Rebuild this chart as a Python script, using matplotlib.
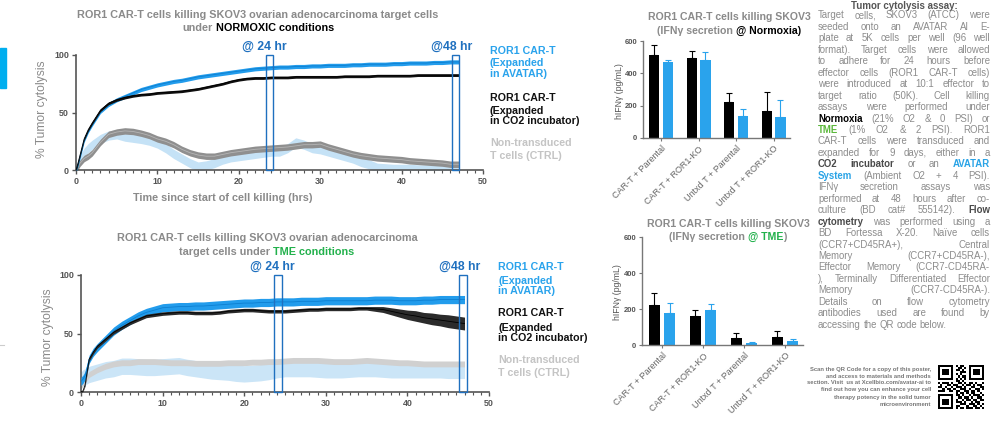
import matplotlib
matplotlib.use("Agg")
import matplotlib.pyplot as plt
from matplotlib.patches import Rectangle
from matplotlib.ticker import MultipleLocator
import numpy as np

plt.rcParams['font.family'] = ['Liberation Sans', 'DejaVu Sans']

W, H = 993, 425

# ---------------- data ----------------
hours = [0, 0.25, 0.5, 1, 1.5, 2, 3, 4, 5, 6, 7, 8, 9, 10, 11, 12, 13, 14, 15, 16,
         17, 18, 19, 20, 21, 22, 23, 24, 25, 26, 27, 28, 29, 30, 31, 32, 33, 34, 35,
         36, 37, 38, 39, 40, 41, 42, 43, 44, 45, 46, 47]

# normoxia
norm_avatar = [0, 5, 12, 26, 34, 40, 51, 57, 61, 64, 67, 70, 72, 74, 75.5, 77, 78, 79.5,
               81, 82, 83, 84, 85, 86, 87, 88, 88.5, 89, 89.5, 89.5, 90, 90, 90.5, 90.5,
               91, 91, 91, 91.5, 91.5, 92, 92, 92, 92.5, 92.5, 93, 93, 93, 93.5, 93.5, 94, 94]
norm_co2 = [0, 6, 13, 27, 35, 41, 52, 58, 61, 63, 64.5, 65.5, 66, 67, 67.5, 68, 68.5, 69.5,
            70.5, 72, 73.5, 75, 77, 78.5, 79.5, 80, 80, 80.5, 80.5, 80.5, 81, 81, 81, 81,
            81, 81, 81.5, 81.5, 81.5, 81.5, 82, 82, 82, 82, 82, 82.5, 82.5, 82.5, 82.5, 82.5, 82.5]
norm_ctrl_co2 = [0, 3, 6, 10, 12, 15, 24, 31, 33, 34, 33.5, 32, 30, 27, 25, 22, 18, 15, 13,
                 12, 12, 13.5, 15, 16, 17, 18, 18.5, 19, 19.5, 20, 21, 22, 22, 22.5, 20, 18,
                 16, 14, 12.5, 11.5, 10.5, 10, 9.5, 9, 8, 7.5, 7, 6.5, 6, 5, 5]
norm_ctrl_avatar = [0, 5, 9, 15, 19, 22, 27, 30, 31, 29, 28, 27, 25.5, 23, 19, 14, 10, 6, 3,
                    4, 6, 9, 11, 12, 13, 14, 15, 16, 16, 19, 24, 22, 19, 18, 16, 14, 12, 10,
                    7, 5, 2, 1.5, 1, 1, 1, 0.5, 0.5, 0.5, 0.5, 0.5, 0.5]

# TME
tme_avatar = [9, 11, 14, 28, 34, 38, 45, 52, 57, 61, 65, 68, 70, 72, 72.5, 73, 73, 73.5,
              73.5, 74, 74.5, 75, 75.5, 76, 76, 76.5, 76.5, 77, 77, 77, 77.5, 77.5, 77.5,
              78, 78, 78, 78, 78, 78, 78.5, 78.5, 78.5, 78, 78, 78, 78.5, 78.5, 79, 79, 79, 79]
tme_co2 = [0, 1, 6, 28, 34, 39, 45, 51, 55, 59, 62, 65, 66, 67, 67.5, 68, 68, 67.5, 67.5,
           67.5, 68, 69, 69.5, 70, 70, 69.5, 69, 69, 69, 69.5, 70, 70.5, 70.5, 71, 71, 71,
           71, 71.5, 71.5, 71, 70.5, 69, 67.5, 66, 65, 63.5, 62.5, 61.5, 60.5, 59.5, 58.5]
tme_co2_err = [0.5, 0.5, 1, 1.5, 1.5, 1.5, 1.5, 1.5, 1.5, 1.5, 1.5, 1.5, 1.5, 1.5, 1.5, 1.5,
               1.5, 1.5, 1.5, 1.5, 1.5, 1.5, 1.5, 1.5, 1.5, 1.5, 1.5, 1.5, 1.5, 1.5, 1.5,
               1.5, 1.5, 1.5, 1.5, 1.5, 1.5, 1.5, 1.5, 2, 2.5, 3, 3.5, 4, 4.5, 4.5, 5, 5,
               5.5, 5.5, 5.5]
tme_ctrl_co2 = [5, 8, 10, 15, 17, 19, 22, 24, 25, 25, 26, 26, 26, 25.5, 25, 25, 25, 24.5,
                24.5, 24.5, 24.5, 25, 25, 25, 25.5, 25.5, 26, 26, 26.5, 27, 27, 27, 27,
                26.5, 26, 26, 26, 26.5, 27, 26.5, 26, 25.5, 25, 25, 24.5, 24, 24, 24, 24, 24, 24]
tme_ctrl_avatar = [10, 12, 13, 15, 16, 17, 19, 20, 22, 22, 21.5, 21, 21, 21.5, 22, 22.5, 21,
                   20, 19, 18, 17.5, 17, 16, 15.5, 16, 16.5, 17.5, 19, 20, 20, 20, 20, 19.5,
                   19, 19, 19, 19.5, 20, 20, 20, 19.5, 19, 19, 19, 19, 19, 19, 19, 18.5, 18.5, 18.5]

groups = ["CAR-T + Parental", "CAR-T + ROR1-KO", "Untxd T + Parental", "Untxd T + ROR1-KO"]
ifn_norm_co2 = [515, 495, 225, 170]
ifn_norm_co2_err = [62, 41, 54, 116]
ifn_norm_avatar = [470, 482, 137, 130]
ifn_norm_avatar_err = [10, 52, 43, 108]
ifn_tme_co2 = [220, 160, 41, 45]
ifn_tme_co2_err = [67, 35, 24, 31]
ifn_tme_avatar = [176, 197, 11, 22]
ifn_tme_avatar_err = [56, 30, 6, 13]

# ---------------- colours ----------------
BLUE = '#229cec'
BLACK = '#111111'
GRAY_TXT = '#8a8a8a'
TICK = '#555555'
BOXBLUE = '#1f70bf'
GREEN = '#22b14c'

fig = plt.figure(figsize=(W / 100, H / 100), dpi=100)
fig.patch.set_facecolor('white')
rend = fig.canvas.get_renderer()


def fx(x):
    return x / W


def fy(y):
    return 1 - y / H


def rect(x0, y0, x1, y1):
    return [fx(x0), fy(y1), (x1 - x0) / W, (y1 - y0) / H]


def space_width(size, weight='normal'):
    a = fig.text(0, 0, "a a", fontsize=size, fontweight=weight)
    b = fig.text(0, 0, "aa", fontsize=size, fontweight=weight)
    w = a.get_window_extent(rend).width - b.get_window_extent(rend).width
    a.remove(); b.remove()
    return w


def seg_line(xc, y, segs, size):
    # segs: (text, colour, space_before)
    space = space_width(size, 'bold')
    objs, ws, gaps = [], [], []
    for s, c, g in segs:
        o = fig.text(0, fy(y), s, fontsize=size, fontweight='bold', color=c, va='center')
        objs.append(o)
        ws.append(o.get_window_extent(rend).width)
        gaps.append(space if g else 0)
    x = xc - (sum(ws) + sum(gaps)) / 2
    for o, w, g in zip(objs, ws, gaps):
        x += g
        o.set_x(fx(x))
        x += w


def band(ax, m, e, color, z, line=None):
    m = np.array(m, float)
    e = np.array(e, float) if np.ndim(e) else np.full(len(m), e)
    ax.fill_between(hours, m - e, m + e, color=color, lw=0, zorder=z)
    if line:
        ax.plot(hours, m, color=line, lw=0.6, zorder=z + 0.1)


def style_line_ax(ax):
    ax.set_xlim(0, 50)
    ax.set_ylim(0, 100)
    for s in ['top', 'right']:
        ax.spines[s].set_visible(False)
    for s in ['left', 'bottom']:
        ax.spines[s].set_color(TICK)
        ax.spines[s].set_linewidth(1.2)
    ax.set_xticks([0, 10, 20, 30, 40, 50])
    ax.set_yticks([0, 50, 100])
    ax.xaxis.set_minor_locator(MultipleLocator(1))
    ax.tick_params(which='major', length=3, width=1, color=TICK, labelsize=6.4,
                   labelcolor=TICK, pad=2)
    ax.tick_params(which='minor', length=2, width=0.8, color=TICK)
    for lb in ax.get_xticklabels() + ax.get_yticklabels():
        lb.set_fontweight('bold')
    ax.patch.set_alpha(0)


def boxes(ax, spans, labels):
    for (a, b), (lx, txt) in zip(spans, labels):
        ax.add_patch(Rectangle((a, 0), b - a, 100, fill=False, ec=BOXBLUE, lw=1,
                               zorder=6, clip_on=False))
        ax.text(lx, 107, txt, color=BOXBLUE, fontsize=8.8, fontweight='bold',
                ha='center', va='center', clip_on=False)


def legend(x, ys, size=7.7):
    blocks = [("ROR1 CAR-T", "(Expanded", "in AVATAR)"),
              ("ROR1 CAR-T", "(Expanded", "in CO2 incubator)"),
              ("Non-transduced", "T cells (CTRL)")]
    cols = ['#2aa3ec', '#111111', '#c4c4c4']
    k = 0
    for blk, c in zip(blocks, cols):
        for line in blk:
            fig.text(fx(x), fy(ys[k]), line, color=c, fontsize=size, fontweight='bold',
                     va='center')
            k += 1


# ---------------- top line chart (normoxia) ----------------
ax1 = fig.add_axes(rect(76, 55, 483, 170))
band(ax1, norm_ctrl_avatar, 4, '#c5e2f6', 1)
band(ax1, norm_ctrl_co2, 2.8, '#8f8f8f', 2, line='#b5b5b5')
band(ax1, norm_avatar, 1.8, BLUE, 3, line='#0d7fd0')
band(ax1, norm_co2, 1.2, BLACK, 4, line='#000000')
style_line_ax(ax1)
boxes(ax1, [(23.3, 24.2), (46.2, 47.1)], [(23.1, "@ 24 hr"), (46.1, "@48 hr")])
seg_line(258, 15, [("ROR1 CAR-T cells killing SKOV3 ovarian adenocarcinoma target cells",
                    GRAY_TXT, False)], 7.85)
seg_line(258, 28, [("under", GRAY_TXT, False), ("NORMOXIC conditions", '#000000', True)], 7.85)
fig.text(fx(42), fy(109), "% Tumor cytolysis", rotation=90, color=GRAY_TXT, fontsize=8.7,
         ha='center', va='center')
fig.text(fx(223), fy(198), "Time since start of cell killing (hrs)", color=GRAY_TXT,
         fontsize=7.8, fontweight='bold', ha='center', va='center')
legend(490, [51, 63, 74, 98, 111, 121, 143, 156])

# ---------------- bottom line chart (TME) ----------------
ax2 = fig.add_axes(rect(81, 275, 489, 392))
band(ax2, tme_ctrl_avatar, 7, '#cbe5f7', 1)
band(ax2, tme_ctrl_co2, 2.5, '#d0d0d0', 2)
band(ax2, tme_avatar, 3.5, BLUE, 3, line='#0d7fd0')
band(ax2, tme_co2, tme_co2_err, '#2b2b2b', 4, line='#000000')
style_line_ax(ax2)
boxes(ax2, [(23.65, 24.6), (46.3, 47.3)], [(23.4, "@ 24 hr"), (46.4, "@48 hr")])
seg_line(267, 238, [("ROR1 CAR-T cells killing SKOV3 ovarian adenocarcinoma", GRAY_TXT,
                     False)], 7.85)
seg_line(267, 252, [("target cells under", GRAY_TXT, False),
                    ("TME conditions", GREEN, True)], 7.85)
fig.text(fx(48), fy(337), "% Tumor cytolysis", rotation=90, color=GRAY_TXT, fontsize=8.7,
         ha='center', va='center')
legend(498, [267, 281, 291, 313, 328, 338, 360, 373])


# ---------------- bar charts ----------------
def bar_chart(box, co2, co2e, av, ave, xlim):
    ax = fig.add_axes(rect(*box))
    x = np.arange(len(groups))
    ax.bar(x - 0.185, co2, 0.27, color='#000000', zorder=2,
           yerr=[np.zeros(4), co2e], capsize=2.2,
           error_kw=dict(ecolor='#000000', elinewidth=0.8, capthick=0.8))
    ax.bar(x + 0.185, av, 0.27, color='#2aa3ec', zorder=2,
           yerr=[np.zeros(4), ave], capsize=2.2,
           error_kw=dict(ecolor='#2aa3ec', elinewidth=0.8, capthick=0.8))
    ax.set_xlim(*xlim)
    ax.set_ylim(0, 600)
    ax.set_yticks([0, 200, 400, 600])
    ax.set_xticks(x)
    ax.set_xticklabels(groups, rotation=45, ha='right', rotation_mode='anchor',
                       fontsize=6.5, color='#666666')
    for s in ['top', 'right']:
        ax.spines[s].set_visible(False)
    for s in ['left', 'bottom']:
        ax.spines[s].set_color('#777777')
        ax.spines[s].set_linewidth(1)
    ax.tick_params(axis='y', length=2.5, width=0.8, color='#777777', labelsize=5.5,
                   labelcolor=TICK, pad=1.5)
    ax.tick_params(axis='x', length=2.5, width=0.8, color='#777777', pad=2)
    for lb in ax.get_yticklabels():
        lb.set_fontweight('bold')
    return ax


bar_chart((643, 41, 790, 138), ifn_norm_co2, ifn_norm_co2_err, ifn_norm_avatar,
          ifn_norm_avatar_err, (-0.48, 3.44))
seg_line(729, 17, [("ROR1 CAR-T cells killing SKOV3", GRAY_TXT, False)], 7.6)
seg_line(729, 31, [("(IFN\u03b3 secretion", GRAY_TXT, False),
                   ("@ Normoxia)", '#000000', True)], 7.6)
fig.text(fx(619), fy(91), "hIFN\u03b3 (pg/mL)", rotation=90, color=TICK, fontsize=6.3,
         ha='center', va='center')

bar_chart((642, 237, 803, 345), ifn_tme_co2, ifn_tme_co2_err, ifn_tme_avatar,
          ifn_tme_avatar_err, (-0.49, 3.44))
seg_line(728, 224, [("ROR1 CAR-T cells killing SKOV3", GRAY_TXT, False)], 7.6)
seg_line(728, 237, [("(IFN\u03b3 secretion", GRAY_TXT, False), ("@ TME", GREEN, True),
                    (")", GRAY_TXT, False)], 7.6)
fig.text(fx(617), fy(292), "hIFN\u03b3 (pg/mL)", rotation=90, color=TICK, fontsize=6.3,
         ha='center', va='center')

# ---------------- right text column ----------------
body = [
    "Target cells, SKOV3 (ATCC) were",
    "seeded onto an AVATAR AI E-",
    "plate at 5K cells per well (96 well",
    "format). Target cells were allowed",
    "to adhere for 24 hours before",
    "effector cells (ROR1 CAR-T cells)",
    "were introduced at 10:1 effector to",
    "target ratio (50K). Cell killing",
    "assays were performed under",
    "k|Normoxia (21% O2 & 0 PSI) or",
    "g|TME (1% O2 & 2 PSI). ROR1",
    "CAR-T cells were transduced and",
    "expanded for 9 days, either in a",
    "b|CO2 b|incubator or an c|AVATAR",
    "c|System (Ambient O2 + 4 PSI).",
    "IFN\u03b3 secretion assays was",
    "performed at 48 hours after co-",
    "culture (BD cat# 555142). b|Flow",
    "b|cytometry was performed using a",
    "BD Fortessa X-20. Na\u00efve cells",
    "(CCR7+CD45RA+), Central",
    "Memory (CCR7+CD45RA-),",
    "Effector Memory (CCR7-CD45RA-",
    "), Terminally Differentiated Effector",
    "Memory (CCR7-CD45RA-).",
    "Details on flow cytometry",
    "antibodies used are found by",
    "accessing the QR code below.",
]
STY = {'n': dict(color='#8c8c8c'),
       'k': dict(color='#000000', fontweight='bold'),
       'b': dict(color='#4a4a4a', fontweight='bold'),
       'g': dict(color='#5cb83c', fontweight='bold'),
       'c': dict(color='#29a3e6', fontweight='bold')}

fig.text(fx(904), fy(6), "Tumor cytolysis assay:", fontsize=7, fontweight='bold',
         color='#555555', ha='center', va='center')
TX0, TX1, BSIZE = 818, 990, 6.9
sw = space_width(BSIZE)
for i, line in enumerate(body):
    yb = 18.5 + i * 11.45
    objs = []
    for wd in line.split(' '):
        st, txt = ('n', wd)
        if '|' in wd:
            st, txt = wd.split('|', 1)
        objs.append(fig.text(0, fy(yb), txt, fontsize=BSIZE, va='baseline', **STY[st]))
    ws = [o.get_window_extent(rend).width for o in objs]
    last = i == len(body) - 1
    gap = sw if (last or len(objs) == 1) else (TX1 - TX0 - sum(ws)) / (len(objs) - 1)
    xx = TX0
    for o, w in zip(objs, ws):
        o.set_x(fx(xx))
        xx += w + gap

qr_text = ["Scan the QR Code for a copy of this poster,",
           "and access to materials and methods",
           "section. Visit  us at Xcellbio.com/avatar-ai to",
           "find out how you can enhance your cell",
           "therapy potency in the solid tumor",
           "microenvironment"]
for i, s in enumerate(qr_text):
    fig.text(fx(931), fy(369 + i * 7.0), s, fontsize=4.2, fontweight='bold',
             color='#777777', ha='right', va='center')

qr_rows = [
    "111111101011001111111",
    "100000100110101000001",
    "101110101101001011101",
    "101110100011101011101",
    "101110101010001011101",
    "100000100101101000001",
    "111111101010101111111",
    "000000001101000000000",
    "101110100110101101001",
    "010011011001011010110",
    "110100101110100110011",
    "001011010011101001101",
    "111001101100110110100",
    "000000001011010110010",
    "111111101101001011101",
    "100000100110110100110",
    "101110101001011011011",
    "101110101110100101100",
    "101110100011101110101",
    "100000101100010011010",
    "111111101011011101101",
]
qr = np.array([[int(c) for c in r] for r in qr_rows])
axq = fig.add_axes(rect(938, 365, 984, 409))
axq.imshow(qr, cmap='gray_r', interpolation='nearest', aspect='auto')
axq.axis('off')

# left-edge poster remnants
fig.add_artist(Rectangle((0, fy(88)), fx(6), (88 - 48) / H, color='#00aeef',
                         transform=fig.transFigure))
fig.add_artist(plt.Line2D([0, fx(4)], [fy(345), fy(345)], color='#cccccc', lw=0.8,
                          transform=fig.transFigure))

fig.savefig('out.png', dpi=100)
